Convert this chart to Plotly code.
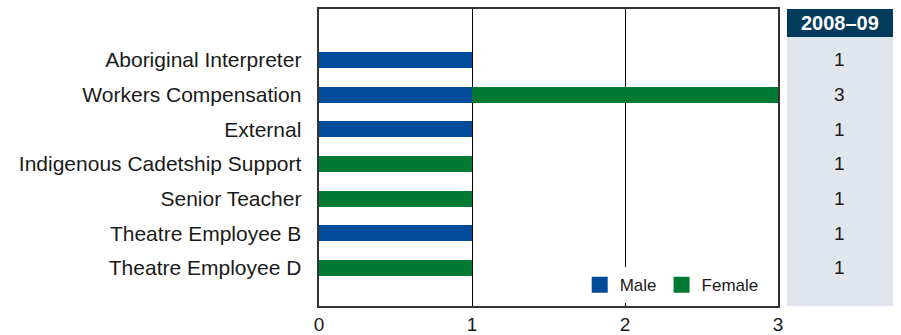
import plotly.graph_objects as go

categories = ["Aboriginal Interpreter", "Workers Compensation", "External",
              "Indigenous Cadetship Support", "Senior Teacher",
              "Theatre Employee B", "Theatre Employee D"]
male = [1, 1, 1, 0, 0, 1, 0]
female = [0, 2, 0, 1, 1, 0, 1]
column_title = "2008–09"
totals = [m + f for m, f in zip(male, female)]
x_ticks = [0, 1, 2, 3]

MALE_C = "#004C9B"
FEMALE_C = "#007A33"
HEAD_C = "#003B5C"
TABLE_BG = "#E1E6EE"
FONT = "Liberation Sans, Arial, sans-serif"

fig = go.Figure()
fig.add_trace(go.Bar(y=categories, x=male, orientation="h", name="Male",
                     marker=dict(color=MALE_C, line=dict(width=0)), width=0.46,
                     showlegend=False))
fig.add_trace(go.Bar(y=categories, x=female, orientation="h", name="Female",
                     marker=dict(color=FEMALE_C, line=dict(width=0)), width=0.46,
                     showlegend=False))
# legend entries with larger square swatches
for name, col in [("Male", MALE_C), ("Female", FEMALE_C)]:
    fig.add_trace(go.Scatter(x=[None], y=[None], mode="markers", name=name,
                             marker=dict(symbol="square", size=16, color=col),
                             showlegend=True))

# table background
fig.add_shape(type="rect", xref="paper", yref="paper", x0=1.0196, x1=1.2505,
              y0=0, y1=0.9057, fillcolor=TABLE_BG, line=dict(width=0), layer="below")
fig.add_shape(type="rect", xref="paper", yref="paper", x0=1.0196, x1=1.2505,
              y0=0.9057, y1=1.0, fillcolor=HEAD_C, line=dict(width=0), layer="below")
fig.add_annotation(xref="paper", yref="paper", x=1.135, y=0.953, text="<b>" + column_title + "</b>",
                   showarrow=False, font=dict(family=FONT, size=20, color="white"),
                   xanchor="center", yanchor="middle")
for cat, t in zip(categories, totals):
    fig.add_annotation(xref="paper", yref="y", x=1.135, y=cat, text=str(t),
                       showarrow=False, font=dict(family=FONT, size=19, color="#1a1a1a"),
                       xanchor="center", yanchor="middle")

fig.update_layout(
    width=901, height=335,
    margin=dict(l=319, r=123, t=9, b=29),
    barmode="stack",
    plot_bgcolor="white", paper_bgcolor="white",
    font=dict(family=FONT, size=19, color="#1a1a1a"),
    showlegend=True,
    legend=dict(orientation="h", x=0.568, y=0.07, xanchor="left", yanchor="middle",
                bgcolor="white", font=dict(size=17, family=FONT, color="#1a1a1a"),
                traceorder="normal", itemwidth=30),
    xaxis=dict(range=[0, 3], tickvals=x_ticks, showgrid=True, gridcolor="#000000",
               gridwidth=1, showline=True, linecolor="#333333", linewidth=1.5,
               mirror=True, ticks="", zeroline=False, tickfont=dict(size=19),
               fixedrange=True, automargin=False),
    yaxis=dict(categoryorder="array", categoryarray=categories,
               range=[7.1, -1.47], showline=True, linecolor="#333333", linewidth=1.5,
               mirror=True, ticks="", showgrid=False, tickfont=dict(size=21),
               ticksuffix="  ", fixedrange=True, automargin=False),
)

fig.write_html("out.html")
